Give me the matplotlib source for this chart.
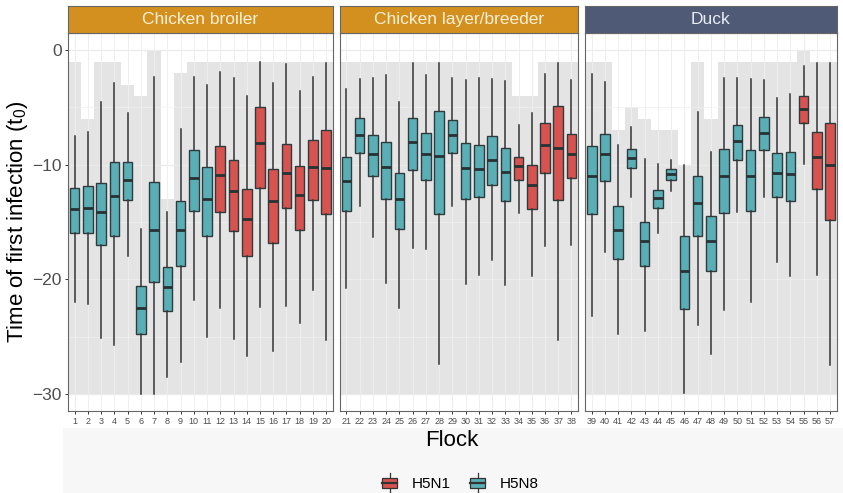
"""Boxplots of time of first infection per flock, faceted by production type."""

import matplotlib

matplotlib.use("Agg")
import matplotlib.pyplot as plt
from matplotlib.legend_handler import HandlerBase
from matplotlib.lines import Line2D
from matplotlib.patches import Patch, Rectangle

plt.rcParams["font.family"] = ["Liberation Sans", "DejaVu Sans"]
plt.rcParams["mathtext.fontset"] = "custom"
plt.rcParams["mathtext.rm"] = "Liberation Sans"
plt.rcParams["mathtext.it"] = "Liberation Sans:italic"

# ---- data ----
FACETS = ["Chicken broiler", "Chicken layer/breeder", "Duck"]
FACET_FLOCKS = [list(range(1, 21)), list(range(21, 39)), list(range(39, 58))]
H5N1_FLOCKS = list(range(12, 21)) + list(range(34, 39)) + [55, 56, 57]

WHISK_HI = [-7.5, -7.1, -4.5, -2.9, -5.5, -15.6, -2.3, -14.1, -6.9, -2.3,
            -3.0, -1.9, -2.4, -4.0, -1.0, -2.9, -1.2, -3.6, -2.3, -1.1,
            -3.4, -2.5, -2.4, -2.2, -4.5, -1.1, -2.2, -1.1, -2.4, -2.6,
            -2.4, -2.5, -2.7, -6.5, -5.5, -2.1, -1.1, -2.6,
            -2.1, -2.8, -8.3, -6.7, -9.5, -9.9, -9.6, -10.0, -5.4, -8.9,
            -2.4, -2.4, -2.5, -2.6, -4.2, -3.8, -1.4, -1.1, -1.1]
Q3 = [-12.0, -11.9, -11.6, -9.8, -9.8, -20.6, -11.5, -18.9, -13.2, -8.7,
      -10.2, -8.4, -9.6, -12.1, -5.0, -10.4, -8.2, -10.1, -7.8, -7.0,
      -9.3, -5.9, -7.4, -8.0, -10.7, -5.9, -7.2, -5.3, -6.1, -8.1,
      -8.3, -7.5, -8.5, -9.3, -10.0, -6.4, -4.9, -7.3,
      -8.4, -7.3, -13.6, -8.6, -15.0, -12.2, -10.4, -16.2, -11.0, -14.5,
      -8.6, -6.5, -8.7, -5.8, -9.0, -8.9, -4.0, -7.1, -6.4]
MEDIAN = [-13.9, -13.8, -14.1, -12.7, -11.3, -22.5, -15.7, -20.7, -15.7, -11.2,
          -13.0, -10.9, -12.3, -14.7, -8.1, -13.2, -10.7, -12.6, -10.2, -10.3,
          -11.4, -7.4, -9.1, -10.2, -13.0, -8.0, -9.1, -9.2, -7.4, -10.3,
          -10.4, -9.6, -10.6, -10.1, -11.8, -8.3, -8.5, -9.1,
          -11.0, -9.1, -15.7, -9.4, -16.7, -12.9, -10.8, -19.3, -13.3, -16.7,
          -11.0, -7.9, -11.0, -7.2, -10.7, -10.8, -5.1, -9.3, -10.0]
Q1 = [-16.0, -16.0, -17.0, -16.2, -13.1, -24.8, -20.2, -22.8, -18.8, -14.0,
      -16.2, -14.1, -15.8, -18.0, -12.0, -16.8, -13.8, -15.7, -13.1, -14.3,
      -14.0, -9.0, -11.0, -13.0, -15.6, -10.5, -11.3, -14.3, -9.0, -13.0,
      -12.8, -11.8, -13.2, -11.3, -13.9, -10.7, -13.1, -11.2,
      -14.3, -11.4, -18.2, -10.3, -18.8, -13.8, -11.3, -22.6, -16.2, -19.3,
      -14.2, -9.6, -14.0, -8.7, -12.8, -13.2, -6.4, -12.1, -14.8]
WHISK_LO = [-22.0, -22.2, -25.1, -25.7, -18.0, -30.0, -30.0, -28.5, -27.2, -21.8,
            -25.0, -22.5, -25.2, -26.7, -22.4, -26.3, -22.3, -23.8, -20.9, -25.3,
            -20.8, -13.6, -16.3, -20.3, -22.5, -17.3, -17.4, -27.4, -13.6, -20.4,
            -19.6, -18.3, -20.5, -14.2, -19.7, -17.1, -25.3, -17.0,
            -23.2, -17.6, -24.8, -12.8, -24.5, -16.0, -12.3, -29.9, -24.0, -26.5,
            -22.7, -14.1, -22.0, -12.8, -18.5, -19.7, -9.9, -19.6, -27.5]
# grey band = prior range of t0 for each flock
PRIOR_HI = [-1, -6, -1, -1, -3, -4, 0, -13, -2, -1,
            -1, -1, -1, -1, -1, -1, -1, -1, -1, -1,
            -1, -1, -1, -1, -1, -1, -1, -1, -1, -1,
            -1, -1, -1, -4, -4, -1, -1, -1,
            -1, -1, -7, -5, -6, -7, -7, -10, -1, -6,
            -1, -1, -1, -1, -1, -1, 0, -1, -1]
PRIOR_LO = -30

COL_H5N1 = "#D6534F"
COL_H5N8 = "#5AAEB6"
STRIP_COLS = ["#D4901F", "#D4901F", "#4F5A77"]
STRIP_TXT = ["#FBF0D6", "#FBF0D6", "#E9ECF1"]

W, H = 843, 493


def fx(px):
    return px / W


def fy(py):
    return 1 - py / H


class BoxKey(HandlerBase):
    """ggplot-style boxplot legend key."""

    def create_artists(self, legend, orig_handle, xdescent, ydescent,
                       width, height, fontsize, trans):
        x0, y0 = -xdescent, -ydescent
        cx = x0 + width / 2
        box = Rectangle((x0 + width * 0.05, y0 + height * 0.18), width * 0.9,
                        height * 0.64, facecolor=orig_handle.get_facecolor(),
                        edgecolor="#333333", lw=0.9, transform=trans)
        med = Line2D([x0 + width * 0.05, x0 + width * 0.95], [y0 + height / 2] * 2,
                     color="#333333", lw=1.6, transform=trans)
        w1 = Line2D([cx, cx], [y0 - height * 0.08, y0 + height * 0.18],
                    color="#333333", lw=0.9, transform=trans)
        w2 = Line2D([cx, cx], [y0 + height * 0.82, y0 + height * 1.08],
                    color="#333333", lw=0.9, transform=trans)
        return [w1, w2, box, med]


fig = plt.figure(figsize=(W / 100, H / 100), dpi=100)
fig.patches.append(Rectangle((fx(63), 0), 1 - fx(63), fy(428), transform=fig.transFigure,
                             facecolor="#F7F7F7", edgecolor="none", zorder=-5))

flock_w = 13.24
gap = 7.0
top, bottom = 33.0, 411.0
left = 68.0
axes = []
for k, (name, flocks) in enumerate(zip(FACETS, FACET_FLOCKS)):
    pw = flock_w * len(flocks)
    ax = fig.add_axes([fx(left), fy(bottom), pw / W, (bottom - top) / H])
    sax = fig.add_axes([fx(left), fy(32.5), pw / W, 26.5 / H])
    left += pw + gap
    axes.append(ax)

    idx = [f - 1 for f in flocks]
    # prior range
    ax.bar(flocks, [PRIOR_HI[i] - PRIOR_LO for i in idx], bottom=PRIOR_LO, width=1.0,
           color="#E4E4E4", edgecolor="none", zorder=1)
    # grid on top of the grey band
    for yv in [0, -10, -20, -30]:
        ax.axhline(yv, color="#EBEBEB", lw=0.9, zorder=1.5)
    for yv in [-5, -15, -25]:
        ax.axhline(yv, color="#F0F0F0", lw=0.5, zorder=1.5)
    for f in flocks:
        ax.axvline(f, color="#EFEFEF", lw=0.7, zorder=1.5)

    stats = [dict(whislo=WHISK_LO[i], q1=Q1[i], med=MEDIAN[i], q3=Q3[i], whishi=WHISK_HI[i])
             for i in idx]
    bp = ax.bxp(stats, positions=flocks, widths=0.72, patch_artist=True,
                showcaps=False, showfliers=False, manage_ticks=False,
                boxprops=dict(edgecolor="#2F3B3D", lw=1.0),
                whiskerprops=dict(color="#333333", lw=1.1),
                medianprops=dict(color="#263234", lw=2.0, solid_capstyle="butt"),
                zorder=3)
    for patch, f in zip(bp["boxes"], flocks):
        patch.set_facecolor(COL_H5N1 if f in H5N1_FLOCKS else COL_H5N8)

    ax.set_xlim(flocks[0] - 0.5, flocks[-1] + 0.5)
    ax.set_ylim(-31.5, 1.5)
    ax.set_facecolor("white")
    ax.set_xticks(flocks)
    ax.set_xticklabels([str(f) for f in flocks], fontsize=6.5, color="#4D4D4D")
    ax.set_yticks([0, -10, -20, -30])
    ax.tick_params(axis="both", length=2.5, width=0.7, color="#333333", pad=2)
    ax.tick_params(axis="y", labelsize=12.5, labelcolor="#4D4D4D")
    if k > 0:
        ax.tick_params(axis="y", left=False, labelleft=False)
    for sp in ax.spines.values():
        sp.set_color("#666666")
        sp.set_linewidth(0.8)

    sax.set_facecolor(STRIP_COLS[k])
    sax.set_xticks([])
    sax.set_yticks([])
    for sp in sax.spines.values():
        sp.set_color("#666666")
        sp.set_linewidth(0.8)
    sax.text(0.5, 0.48, name, ha="center", va="center", fontsize=12.5,
             color=STRIP_TXT[k], transform=sax.transAxes)

fig.text(fx(18), fy(222), r"Time of first infection ($\mathrm{t}_0$)", rotation=90,
         ha="center", va="center", fontsize=16, color="black")
fig.text(fx(452), fy(441), "Flock", ha="center", va="center", fontsize=16, color="black")

handles = [Patch(facecolor=COL_H5N1), Patch(facecolor=COL_H5N8)]
fig.legend(handles, ["H5N1", "H5N8"], loc="center", ncol=2,
           bbox_to_anchor=(fx(460), fy(483)), frameon=False, fontsize=11,
           handler_map={Patch: BoxKey()}, handlelength=1.1, handleheight=1.3,
           handletextpad=0.9, columnspacing=1.2)

fig.savefig("out.png", dpi=100)
